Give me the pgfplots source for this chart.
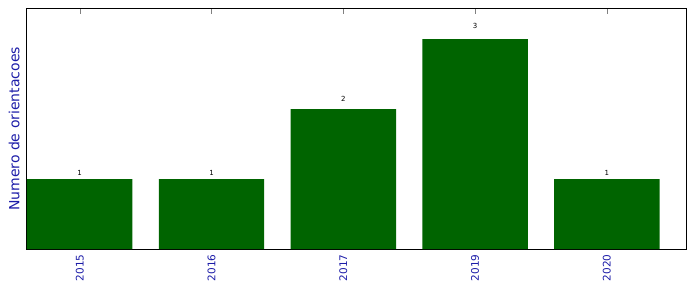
\documentclass[border=0pt]{standalone}
\usepackage{fontspec}
\setmainfont{DejaVu Sans}
\usepackage{pgfplots}
\pgfplotsset{compat=1.18}
\definecolor{bargreen}{HTML}{006400}
\definecolor{lblblue}{HTML}{1C1CA8}
\begin{document}
\begin{tikzpicture}
\begin{axis}[
  scale only axis,
  width=659pt, height=240pt,
  xmin=-0.4, xmax=4.6, ymin=0, ymax=3.43,
  ytick=\empty,
  xtick={0,1,2,3,4},
  xticklabels={2015,2016,2017,2019,2020},
  x tick label style={rotate=90, anchor=east, font=\fontsize{10.5}{12}\selectfont, text=lblblue, xshift=-2pt},
  tick align=inside,
  major tick length=5pt,
  xtick pos=both,
  ylabel={Numero de orientacoes},
  ylabel style={at={(rel axis cs:0,0.5)}, anchor=south, yshift=4pt, font=\fontsize{14}{16}\selectfont, text=lblblue},
  axis line style={line width=1pt},
  /pgf/number format/assume math mode=true,
]
\addplot[ybar, bar width=0.8, fill=bargreen, draw=none] coordinates {(0,1) (1,1) (2,2) (3,3) (4,1)};
% value labels placed at 1.05 x height (matplotlib style)
\addplot[draw=none, mark=none, point meta=explicit symbolic,
  nodes near coords, nodes near coords align={anchor=south},
  nodes near coords style={font=\fontsize{7}{8}\selectfont, text=black, inner sep=0pt, anchor=south}]
  coordinates {(0,1.05)[1] (1,1.05)[1] (2,2.10)[2] (3,3.15)[3] (4,1.05)[1]};
\end{axis}
\path (current axis.south west) ++(-27pt,-43pt) coordinate (bl);
\path (current axis.north east) ++(10pt,9pt) coordinate (tr);
\useasboundingbox (bl) rectangle (tr);
\end{tikzpicture}
\end{document}
